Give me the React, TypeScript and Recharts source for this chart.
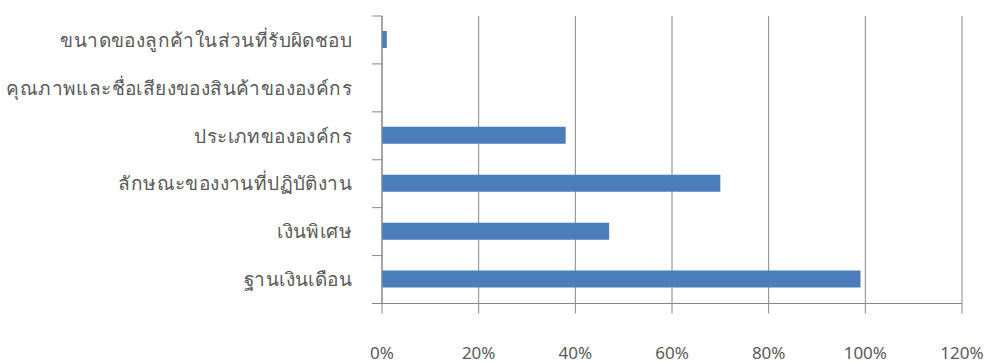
import { BarChart, Bar, XAxis, YAxis, CartesianGrid } from "recharts";

const categories = [
  "ขนาดของลูกค้าในส่วนที่รับผิดชอบ",
  "คุณภาพและชื่อเสียงของสินค้าขององค์กร",
  "ประเภทขององค์กร",
  "ลักษณะของงานที่ปฏิบัติงาน",
  "เงินพิเศษ",
  "ฐานเงินเดือน",
];
const shares = [0.01, 0, 0.38, 0.7, 0.47, 0.99];
const xTicks = [0, 0.2, 0.4, 0.6, 0.8, 1.0, 1.2];

const data = categories.map((name, i) => ({ name, value: shares[i] }));

const AXIS = "#868686";
const TEXT = "#595959";
const FONT = "'Noto Sans', 'DejaVu Sans', sans-serif";

const W = 990;
const H = 363;
const TOP = 16;
const X_AXIS_H = 59.5;
const Y_AXIS_W = 382;
const TICK = 10;
const BAND = (H - TOP - X_AXIS_H) / categories.length;

const pct = (v: number) => `${Math.round(v * 100)}%`;

// category labels, with the tick marks placed on band edges like Excel does
const CategoryTick = (props: any) => {
  const { x, y, payload, index } = props;
  const half = payload?.offset || BAND / 2;
  const last = index === categories.length - 1;
  return (
    <g>
      <line x1={Y_AXIS_W - TICK} x2={Y_AXIS_W} y1={y - half} y2={y - half} stroke={AXIS} />
      {last && (
        <line x1={Y_AXIS_W - TICK} x2={Y_AXIS_W} y1={y + half} y2={y + half} stroke={AXIS} />
      )}
      <text
        x={x}
        y={y}
        dy="0.355em"
        textAnchor="end"
        fill={TEXT}
        fontSize={19}
        letterSpacing={0.4}
      >
        {payload.value}
      </text>
    </g>
  );
};

const App = () => {
  return (
    <div style={{ width: W, height: H, background: "#fff", fontFamily: FONT }}>
      <style>{`body{margin:0}`}</style>
      <BarChart
        width={W}
        height={H}
        data={data}
        layout="vertical"
        margin={{ top: TOP, right: 28, bottom: 0, left: 0 }}
      >
        <CartesianGrid horizontal={false} stroke={AXIS} strokeWidth={1} />
        <XAxis
          type="number"
          domain={[0, 1.2]}
          ticks={xTicks}
          tickFormatter={pct}
          axisLine={{ stroke: AXIS }}
          tickLine={{ stroke: AXIS }}
          tickSize={TICK}
          tickMargin={33}
          height={X_AXIS_H}
          tick={{ fill: TEXT, fontSize: 17 }}
          interval={0}
        />
        <YAxis
          type="category"
          dataKey="name"
          width={Y_AXIS_W}
          axisLine={{ stroke: AXIS }}
          tickLine={false}
          tickSize={0}
          tickMargin={30}
          interval={0}
          tick={CategoryTick}
        />
        <Bar dataKey="value" fill="#4a7ebb" barSize={17} isAnimationActive={false} />
      </BarChart>
    </div>
  );
};

export default App;
